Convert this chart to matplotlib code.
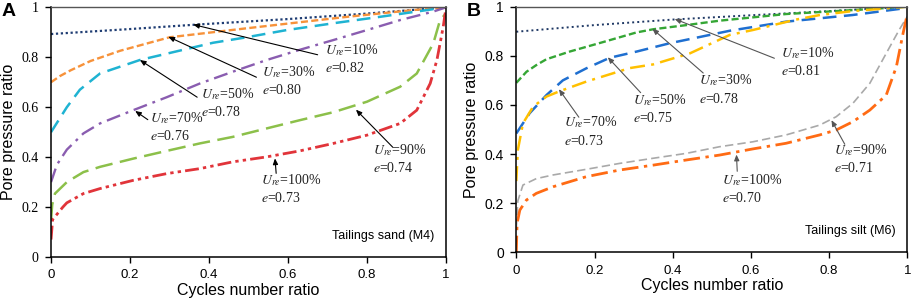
import matplotlib
matplotlib.use("Agg")
import matplotlib.pyplot as plt

plt.rcParams['mathtext.fontset'] = 'stix'

SERIF = ['Liberation Serif', 'DejaVu Serif']
SANS = ['Liberation Sans', 'DejaVu Sans']

# ---- panel A: tailings sand (M4) ----
a_x_10 = [0, 0.2, 0.37, 0.6, 0.8, 1.0]
a_y_10 = [0.893, 0.913, 0.931, 0.953, 0.975, 1.0]
a_x_30 = [0, 0.023, 0.05, 0.1, 0.175, 0.3, 0.495, 0.75, 0.917, 1.0]
a_y_30 = [0.70, 0.725, 0.748, 0.785, 0.826, 0.88, 0.916, 0.962, 0.989, 1.0]
a_x_50 = [0, 0.02, 0.04, 0.073, 0.124, 0.225, 0.41, 0.495, 0.597, 0.723, 0.833, 1.0]
a_y_50 = [0.5, 0.55, 0.60, 0.67, 0.735, 0.789, 0.858, 0.88, 0.909, 0.938, 0.962, 1.0]
a_x_70 = [0, 0.015, 0.04, 0.082, 0.124, 0.208, 0.293, 0.377, 0.46, 0.546, 0.63, 0.715, 0.8, 0.884, 0.968, 1.0]
a_y_70 = [0.30, 0.37, 0.43, 0.495, 0.535, 0.588, 0.64, 0.695, 0.742, 0.789, 0.83, 0.869, 0.909, 0.949, 0.983, 1.0]
a_x_90 = [0, 0.003, 0.01, 0.04, 0.082, 0.124, 0.208, 0.293, 0.377, 0.46, 0.546, 0.63, 0.715, 0.8, 0.884, 0.926, 0.968, 0.985, 0.997]
a_y_90 = [0.15, 0.21, 0.254, 0.30, 0.34, 0.361, 0.394, 0.425, 0.455, 0.481, 0.515, 0.548, 0.58, 0.622, 0.682, 0.735, 0.856, 0.949, 0.97]
a_x_100 = [0, 0.004, 0.03, 0.04, 0.082, 0.124, 0.208, 0.293, 0.377, 0.46, 0.546, 0.63, 0.715, 0.8, 0.884, 0.926, 0.96, 0.977, 0.993, 1.0]
a_y_100 = [0.07, 0.15, 0.2, 0.217, 0.254, 0.274, 0.307, 0.334, 0.354, 0.381, 0.401, 0.425, 0.455, 0.488, 0.535, 0.588, 0.695, 0.789, 0.922, 1.0]

# ---- panel B: tailings silt (M6) ----
b_x_10 = [0, 0.2, 0.405, 0.6, 0.8, 1.0]
b_y_10 = [0.898, 0.925, 0.948, 0.965, 0.982, 1.0]
b_x_30 = [0, 0.026, 0.051, 0.077, 0.136, 0.22, 0.307, 0.35, 0.435, 0.52, 0.69, 0.86, 1.0]
b_y_30 = [0.69, 0.735, 0.762, 0.786, 0.817, 0.855, 0.895, 0.908, 0.925, 0.943, 0.97, 0.986, 1.0]
b_x_50 = [0, 0.034, 0.077, 0.119, 0.179, 0.239, 0.307, 0.392, 0.546, 0.69, 0.86, 1.0]
b_y_50 = [0.484, 0.566, 0.64, 0.70, 0.749, 0.792, 0.817, 0.851, 0.902, 0.939, 0.966, 0.995]
b_x_70 = [0, 0.004, 0.017, 0.043, 0.077, 0.111, 0.179, 0.29, 0.35, 0.444, 0.546, 0.605, 0.717, 0.776, 0.86, 1.0]
b_y_70 = [0.29, 0.417, 0.525, 0.593, 0.634, 0.656, 0.695, 0.75, 0.765, 0.81, 0.885, 0.905, 0.948, 0.966, 0.982, 1.0]
b_x_90 = [0, 0.004, 0.017, 0.051, 0.094, 0.179, 0.264, 0.35, 0.435, 0.52, 0.605, 0.69, 0.776, 0.818, 0.861, 0.904, 0.946, 0.98, 1.0]
b_y_90 = [0.10, 0.21, 0.274, 0.30, 0.315, 0.338, 0.362, 0.383, 0.403, 0.43, 0.45, 0.478, 0.518, 0.552, 0.607, 0.688, 0.81, 0.908, 0.96]
b_x_100 = [0, 0.002, 0.009, 0.026, 0.051, 0.094, 0.179, 0.264, 0.35, 0.435, 0.52, 0.605, 0.69, 0.776, 0.818, 0.861, 0.904, 0.946, 0.972, 0.989, 1.0]
b_y_100 = [0.0, 0.118, 0.172, 0.213, 0.24, 0.267, 0.308, 0.335, 0.355, 0.376, 0.396, 0.421, 0.444, 0.478, 0.498, 0.532, 0.579, 0.64, 0.756, 0.891, 0.97]

ure_labels = ['10%', '30%', '50%', '70%', '90%', '100%']
a_e = ['0.82', '0.80', '0.78', '0.76', '0.74', '0.73']
b_e = ['0.81', '0.78', '0.75', '0.73', '0.71', '0.70']
x_ticks = [0, 0.2, 0.4, 0.6, 0.8, 1.0]
tick_labels = ['0', '0.2', '0.4', '0.6', '0.8', '1']

# line styles: (color, dashes, lw)
a_styles = [
    ('#1f3d73', (1, 1.2), 1.6),
    ('#f7923a', (3, 1.4), 1.7),
    ('#1fb3d2', (5.5, 3), 1.8),
    ('#8a5db0', (6, 2.5, 1.2, 2.5), 1.7),
    ('#8cc04a', (7, 3), 1.8),
    ('#e1343a', (5, 1.5, 1.2, 1.5, 1.2, 1.5), 2.0),
]
b_styles = [
    ('#1f3864', (1, 1.6), 1.4),
    ('#35a635', (3, 1.4), 1.7),
    ('#1f6fd0', (5.5, 3), 1.8),
    ('#ffc000', (6, 2.5, 1.2, 2.5), 1.8),
    ('#a9a9a9', (5, 2.5), 1.2),
    ('#ff6b14', (6, 2, 1.2, 2), 2.0),
]

# annotation layout: (text x, text y centre, arrow start x, y, arrow tip x, y)
a_notes = [
    (0.693, 0.795, 0.675, 0.81, 0.36, 0.931),
    (0.533, 0.706, 0.52, 0.72, 0.297, 0.882),
    (0.380, 0.617, 0.37, 0.64, 0.225, 0.789),
    (0.250, 0.522, 0.245, 0.55, 0.213, 0.585),
    (0.815, 0.393, 0.865, 0.44, 0.772, 0.59),
    (0.532, 0.273, 0.57, 0.335, 0.567, 0.395),
]
b_notes = [
    (0.678, 0.775, 0.66, 0.79, 0.405, 0.95),
    (0.466, 0.664, 0.478, 0.73, 0.348, 0.91),
    (0.299, 0.585, 0.318, 0.65, 0.234, 0.794),
    (0.122, 0.493, 0.16, 0.55, 0.109, 0.664),
    (0.813, 0.381, 0.84, 0.44, 0.806, 0.538),
    (0.527, 0.260, 0.565, 0.33, 0.563, 0.398),
]


def draw_panel(ax, xs, ys, styles, e_vals, notes, arrow_color, note, letter,
               ytick_family):
    for x, y, (c, d, lw) in zip(xs, ys, styles):
        ax.plot(x, y, color=c, lw=lw, dashes=d, solid_capstyle='butt',
                dash_capstyle='butt')
    for u, e, (tx, ty, sx, sy, px, py) in zip(ure_labels, e_vals, notes):
        ax.text(tx, ty, r'$U_{re}$=' + u + '\n' + r'$e$=' + e, family=SERIF,
                fontsize=10, va='center', ha='left', linespacing=1.3,
                color='#222222')
        ax.annotate('', xy=(px, py), xytext=(sx, sy),
                    arrowprops=dict(arrowstyle='-|>,head_length=0.35,head_width=0.15',
                                    color=arrow_color, lw=0.8,
                                    shrinkA=0, shrinkB=0))
    ax.text(0.97, 0.085, note, family=SANS, fontsize=9, ha='right',
            va='center', transform=ax.transAxes)
    ax.set_xlim(0, 1)
    ax.set_ylim(0, 1)
    ax.set_xticks(x_ticks)
    ax.set_xticklabels(tick_labels, family=SANS, fontsize=9.5)
    ax.set_yticks(x_ticks)
    ax.set_yticklabels(tick_labels, family=ytick_family, fontsize=10)
    ax.tick_params(direction='out', length=4, width=1, pad=5)
    ax.set_xlabel('Cycles number ratio', family=SANS, fontsize=11.5, labelpad=1)
    ax.set_ylabel('Pore pressure ratio', family=SANS, fontsize=11.5, labelpad=4)
    for s in ['left', 'bottom', 'right']:
        ax.spines[s].set_color('black')
        ax.spines[s].set_linewidth(1.1)
    ax.spines['top'].set_color('#555555')
    ax.spines['top'].set_linewidth(1.0)
    fig.text(ax.get_position().x0 - 0.054, 0.99, letter, family=SANS,
             fontsize=14, fontweight='bold', va='top', ha='left')


fig = plt.figure(figsize=(9.13, 2.99), dpi=100)
ax_a = fig.add_axes([0.0559, 0.1405, 0.4326, 0.835])
ax_b = fig.add_axes([0.5655, 0.156, 0.4283, 0.8217])

draw_panel(ax_a,
           [a_x_10, a_x_30, a_x_50, a_x_70, a_x_90, a_x_100],
           [a_y_10, a_y_30, a_y_50, a_y_70, a_y_90, a_y_100],
           a_styles, a_e, a_notes, 'black', 'Tailings sand (M4)', 'A', SERIF)
draw_panel(ax_b,
           [b_x_10, b_x_30, b_x_50, b_x_70, b_x_90, b_x_100],
           [b_y_10, b_y_30, b_y_50, b_y_70, b_y_90, b_y_100],
           b_styles, b_e, b_notes, '#555555', 'Tailings silt (M6)', 'B', SANS)

fig.savefig('out.png', dpi=100)
